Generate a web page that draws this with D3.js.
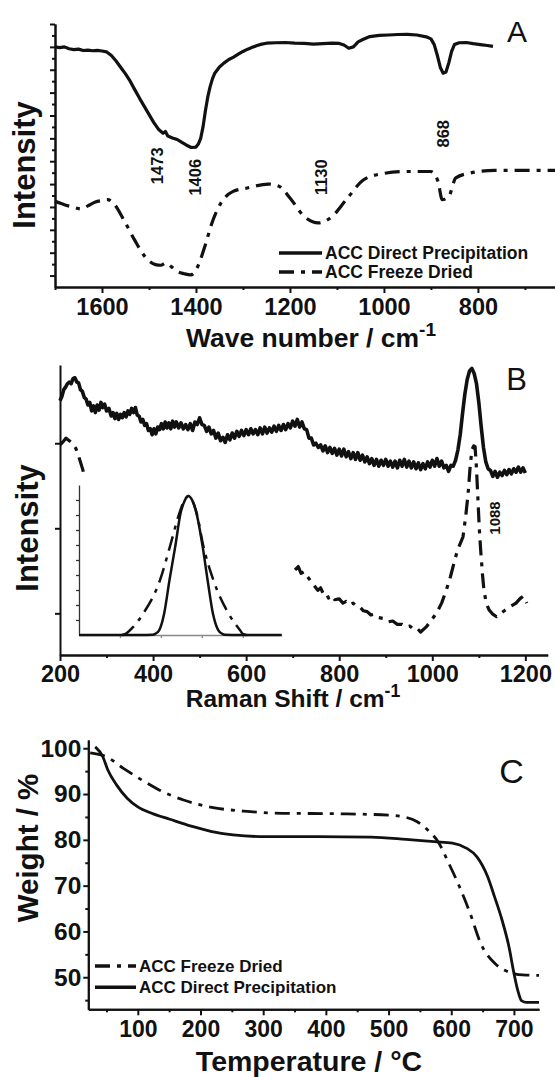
<!DOCTYPE html>
<html>
<head>
<meta charset="utf-8">
<script src="https://cdn.jsdelivr.net/npm/d3@7.9.0/dist/d3.min.js"></script>
<style>
  body { margin: 0; background: #fff; }
  svg { display: block; font-family: "Liberation Sans", Arial, sans-serif; }
</style>
</head>
<body>
<svg id="chart" width="555" height="1077"></svg>
<script>
// ---- panel A : IR spectra (wave number, intensity in arbitrary units) ----
const irDirect = [
  [1700, 10.0], [1690, 9.97], [1680, 10.0], [1670, 9.92], [1660, 9.88], [1650, 9.9],
  [1640, 9.84], [1630, 9.86], [1620, 9.83], [1610, 9.85], [1600, 9.82], [1590, 9.78],
  [1580, 9.62], [1570, 9.38], [1560, 9.1], [1550, 8.82], [1540, 8.5], [1530, 8.12],
  [1520, 7.75], [1510, 7.4], [1500, 7.05], [1490, 6.7], [1480, 6.4], [1470, 6.22],
  [1465, 6.3], [1460, 6.1], [1450, 6.02], [1440, 5.95], [1430, 5.82], [1420, 5.7],
  [1410, 5.6], [1400, 5.62], [1395, 5.75], [1390, 6.0], [1385, 6.5], [1380, 7.2],
  [1375, 7.8], [1370, 8.25], [1365, 8.6], [1360, 8.85], [1350, 9.12], [1340, 9.3],
  [1330, 9.45], [1320, 9.55], [1310, 9.68], [1300, 9.8], [1290, 9.9], [1280, 9.98],
  [1270, 10.06], [1260, 10.12], [1250, 10.16], [1230, 10.18], [1210, 10.19], [1190, 10.16],
  [1170, 10.15], [1150, 10.12], [1130, 10.14], [1110, 10.16], [1095, 10.15], [1085, 10.08],
  [1075, 9.94], [1065, 10.0], [1055, 10.22], [1045, 10.32], [1030, 10.45], [1010, 10.5],
  [990, 10.52], [970, 10.54], [950, 10.55], [930, 10.52], [910, 10.44], [900, 10.35],
  [893, 10.1], [886, 9.6], [880, 9.1], [874, 8.85], [868, 8.9], [862, 9.3], [856, 9.8],
  [850, 10.1], [840, 10.18], [825, 10.19], [810, 10.14], [795, 10.1], [780, 10.06], [768, 10.02]
];
const irFreeze = [
  [1700, 3.25], [1680, 3.1], [1663, 3.0], [1644, 2.91], [1630, 3.05], [1614, 3.22],
  [1600, 3.28], [1588, 3.32], [1573, 3.1], [1554, 2.45], [1531, 1.57], [1509, 0.84],
  [1486, 0.48], [1475, 0.45], [1464, 0.55], [1452, 0.38], [1441, 0.19], [1425, 0.08],
  [1411, 0.03], [1405, 0.1], [1396, 0.41], [1381, 1.28], [1366, 2.3], [1347, 3.17],
  [1321, 3.68], [1291, 3.83], [1246, 4.0], [1223, 3.9], [1200, 3.39], [1170, 2.59],
  [1140, 2.3], [1110, 2.59], [1080, 3.32], [1043, 4.19], [1005, 4.45], [952, 4.55],
  [900, 4.55], [885, 4.12], [876, 3.32], [862, 3.46], [847, 4.27], [817, 4.48],
  [764, 4.6], [636, 4.6]
];
const irPeaks = [
  { label: "1473", x: 1482, y: 4.8 }, { label: "1406", x: 1401, y: 4.3 },
  { label: "1130", x: 1133, y: 4.3 }, { label: "868", x: 873, y: 6.2 }
];
const irTicks = [1600, 1400, 1200, 1000, 800];
const irMinor = [1700, 1500, 1300, 1100, 900, 700];

// ---- panel B : Raman spectra ----
const ramanDirect = [
  [200, 3.5], [204, 3.55], [208, 3.63], [212, 3.66], [216, 3.7], [220, 3.72], [224, 3.7],
  [228, 3.76], [232, 3.77], [236, 3.72], [240, 3.71], [244, 3.63], [248, 3.61], [252, 3.54],
  [256, 3.52], [260, 3.45], [264, 3.48], [268, 3.38], [272, 3.44], [276, 3.36], [280, 3.45],
  [284, 3.39], [288, 3.48], [292, 3.42], [296, 3.46], [300, 3.38], [305, 3.41], [310, 3.32],
  [314, 3.36], [318, 3.29], [322, 3.35], [326, 3.28], [330, 3.34], [334, 3.3], [338, 3.36],
  [342, 3.31], [346, 3.38], [350, 3.34], [354, 3.41], [358, 3.36], [362, 3.42], [366, 3.33],
  [370, 3.32], [374, 3.25], [378, 3.28], [382, 3.21], [386, 3.23], [390, 3.15], [394, 3.17],
  [398, 3.1], [402, 3.17], [406, 3.11], [410, 3.19], [414, 3.16], [418, 3.23], [422, 3.17],
  [426, 3.25], [430, 3.18], [434, 3.24], [438, 3.17], [442, 3.26], [446, 3.19], [450, 3.25],
  [455, 3.18], [460, 3.24], [465, 3.17], [470, 3.22], [475, 3.16], [480, 3.23], [485, 3.15],
  [490, 3.25], [495, 3.22], [500, 3.3], [505, 3.22], [510, 3.21], [515, 3.14], [520, 3.19],
  [525, 3.11], [530, 3.15], [535, 3.06], [540, 3.12], [545, 3.03], [550, 3.07], [555, 3.01],
  [560, 3.1], [565, 3.04], [570, 3.12], [575, 3.06], [580, 3.14], [585, 3.08], [590, 3.15],
  [595, 3.09], [600, 3.16], [605, 3.1], [610, 3.17], [615, 3.11], [620, 3.16], [625, 3.1],
  [630, 3.18], [635, 3.11], [640, 3.19], [645, 3.12], [650, 3.18], [655, 3.13], [660, 3.2],
  [665, 3.14], [670, 3.21], [675, 3.15], [680, 3.22], [685, 3.16], [690, 3.23], [695, 3.18],
  [700, 3.26], [705, 3.2], [710, 3.28], [715, 3.19], [720, 3.25], [725, 3.17], [730, 3.16],
  [735, 3.06], [740, 3.06], [745, 2.98], [750, 3.0], [755, 2.95], [760, 2.98], [765, 2.91],
  [770, 2.97], [775, 2.89], [780, 2.95], [785, 2.88], [790, 2.94], [795, 2.86], [800, 2.93],
  [805, 2.85], [810, 2.93], [815, 2.84], [820, 2.9], [825, 2.82], [830, 2.89], [835, 2.81],
  [840, 2.89], [845, 2.8], [850, 2.86], [855, 2.78], [860, 2.84], [865, 2.76], [870, 2.82],
  [875, 2.74], [880, 2.81], [885, 2.73], [890, 2.8], [895, 2.74], [900, 2.81], [905, 2.73],
  [910, 2.79], [915, 2.72], [920, 2.79], [925, 2.71], [930, 2.8], [935, 2.73], [940, 2.81],
  [945, 2.72], [950, 2.79], [955, 2.71], [960, 2.78], [965, 2.7], [970, 2.77], [975, 2.69],
  [980, 2.76], [985, 2.7], [990, 2.78], [995, 2.72], [1000, 2.8], [1005, 2.73], [1010, 2.82],
  [1015, 2.73], [1020, 2.79], [1025, 2.71], [1030, 2.74], [1035, 2.67], [1040, 2.74],
  [1045, 2.73], [1050, 2.8], [1055, 2.92], [1060, 3.1], [1065, 3.35], [1070, 3.58],
  [1075, 3.75], [1080, 3.85], [1085, 3.88], [1090, 3.82], [1095, 3.7], [1100, 3.48],
  [1105, 3.2], [1110, 2.95], [1115, 2.78], [1120, 2.7], [1125, 2.68], [1130, 2.61],
  [1135, 2.67], [1140, 2.6], [1145, 2.66], [1150, 2.62], [1155, 2.68], [1160, 2.63],
  [1165, 2.69], [1170, 2.64], [1175, 2.7], [1180, 2.66], [1185, 2.72], [1190, 2.66],
  [1195, 2.71], [1200, 2.65]
];
const ramanFreezeLow = [
  [200, 2.98], [207, 3.02], [213, 3.06], [220, 3.03], [227, 3.0], [234, 2.94],
  [240, 2.85], [245, 2.76], [249, 2.69], [253, 2.59]
];
const ramanFreezeHigh = [
  [705, 1.51], [712, 1.55], [718, 1.47], [725, 1.49], [732, 1.43], [743, 1.35], [754, 1.27],
  [760, 1.3], [765, 1.24], [771, 1.25], [777, 1.18], [784, 1.21], [790, 1.16], [800, 1.17],
  [808, 1.12], [815, 1.14], [822, 1.1], [830, 1.12], [838, 1.08], [845, 1.07], [852, 1.03],
  [860, 1.02], [868, 0.98], [876, 0.99], [885, 0.95], [895, 0.94], [906, 0.9], [915, 0.91],
  [925, 0.87], [935, 0.87], [944, 0.84], [952, 0.85], [960, 0.81], [968, 0.82], [975, 0.78],
  [987, 0.84], [998, 0.92], [1010, 1.01], [1020, 1.12], [1030, 1.27], [1039, 1.43],
  [1047, 1.6], [1054, 1.74], [1060, 1.82], [1066, 1.9], [1072, 2.15], [1077, 2.41],
  [1081, 2.7], [1085, 2.92], [1089, 2.97], [1092, 2.96], [1095, 2.7], [1098, 2.35],
  [1101, 2.0], [1104, 1.74], [1108, 1.45], [1111, 1.27], [1116, 1.12], [1122, 1.04],
  [1130, 0.99], [1138, 0.96], [1147, 1.0], [1157, 1.04], [1168, 1.08], [1180, 1.12],
  [1188, 1.17], [1195, 1.2], [1200, 1.16], [1203, 1.12]
];
const ramanTicks = [200, 400, 600, 800, 1000, 1200];
const ramanMinor = [300, 500, 700, 900, 1100];
const ramanYTicks = [1, 2, 3];

// inset of panel B (arbitrary units)
const insetNarrow = [
  [0, 0], [1.5, 0], [1.8, 0.02], [1.86, 0.08], [1.96, 0.33], [2.08, 1.44], [2.21, 3.67],
  [2.35, 5.89], [2.48, 8.11], [2.58, 8.95], [2.67, 9.27], [2.77, 8.95], [2.87, 8.11],
  [3.02, 5.89], [3.14, 3.67], [3.27, 1.44], [3.4, 0.33], [3.5, 0.08], [3.56, 0.02],
  [3.9, 0], [4.95, 0]
];
const insetBroad = [
  [1.05, 0], [1.12, 0.05], [1.33, 0.56], [1.57, 1.44], [1.98, 3.67], [2.22, 5.89],
  [2.45, 8.11], [2.57, 8.95], [2.67, 9.27], [2.77, 8.95], [2.875, 8.11], [3.04, 5.89],
  [3.28, 3.67], [3.65, 1.44], [3.93, 0.33], [4.01, 0.05], [4.1, 0]
];

// ---- panel C : TGA ----
const tgaDirect = [
  [32, 100.3], [44, 98.2], [52, 95.3], [66, 92.0], [83, 89.1], [100, 87.2], [122, 85.8],
  [151, 84.5], [185, 83.0], [218, 81.8], [252, 81.1], [303, 80.7], [387, 80.7], [472, 80.6],
  [528, 80.1], [573, 79.6], [602, 79.3], [624, 78.2], [641, 76.3], [658, 72.0], [669, 67.6],
  [681, 62.5], [692, 56.7], [700, 50.9], [706, 47.2], [712, 44.9], [720, 44.5], [740, 44.5]
];
const tgaFreeze = [
  [24, 99.0], [49, 98.2], [77, 95.6], [106, 93.1], [134, 90.9], [173, 88.7], [218, 87.1],
  [275, 86.2], [331, 85.8], [416, 85.7], [500, 85.4], [528, 84.9], [545, 84.0], [562, 82.2],
  [579, 79.6], [596, 74.9], [613, 69.8], [630, 64.0], [647, 57.4], [669, 53.1], [697, 50.9],
  [714, 50.5], [740, 50.4]
];
const tgaXTicks = [100, 200, 300, 400, 500, 600, 700];
const tgaXMinor = [50, 150, 250, 350, 450, 550, 650];
const tgaYTicks = [50, 60, 70, 80, 90, 100];
const tgaYMinor = [45, 55, 65, 75, 85, 95];

const seriesNames = ["ACC Direct Precipitation", "ACC Freeze Dried"];

const svg = d3.select("#chart");
svg.append("rect").attr("width", 555).attr("height", 1077).attr("fill", "#fff");

const DASHDOT = "15,7,4,7";
const INK = "#111";

function styleAxis(g, fontSize) {
  g.select(".domain").attr("stroke", INK).attr("stroke-width", 2);
  g.selectAll(".tick line").attr("stroke", INK).attr("stroke-width", 2);
  g.selectAll(".tick text")
    .attr("fill", INK)
    .attr("font-size", fontSize)
    .attr("font-weight", "bold")
    .attr("font-family", '"Liberation Sans", Arial, sans-serif');
}

// draw major + minor ticks for one axis
function bottomAxis(x, yPos, major, minor, fontSize, pad) {
  if (minor) {
    svg.append("g").attr("transform", `translate(0,${yPos})`)
      .call(d3.axisBottom(x).tickValues(minor).tickSize(3).tickSizeOuter(0).tickFormat(""))
      .call((g) => styleAxis(g, fontSize));
  }
  svg.append("g").attr("transform", `translate(0,${yPos})`)
    .call(d3.axisBottom(x).tickValues(major).tickSize(6).tickPadding(pad).tickSizeOuter(0)
      .tickFormat(d3.format("d")))
    .call((g) => styleAxis(g, fontSize));
}
function leftAxis(y, xPos, major, minor, labels, fontSize) {
  if (minor) {
    svg.append("g").attr("transform", `translate(${xPos},0)`)
      .call(d3.axisLeft(y).tickValues(minor).tickSize(3).tickSizeOuter(0).tickFormat(""))
      .call((g) => styleAxis(g, fontSize));
  }
  svg.append("g").attr("transform", `translate(${xPos},0)`)
    .call(d3.axisLeft(y).tickValues(major).tickSize(5).tickPadding(2).tickSizeOuter(0)
      .tickFormat(labels ? d3.format("d") : ""))
    .call((g) => styleAxis(g, fontSize));
}

function drawLine(data, x, y, dashed, width, curve) {
  const line = d3.line().x((d) => x(d[0])).y((d) => y(d[1])).curve(curve || d3.curveLinear);
  svg.append("path")
    .datum(data)
    .attr("d", line)
    .attr("fill", "none")
    .attr("stroke", INK)
    .attr("stroke-width", width)
    .attr("stroke-linejoin", "round")
    .attr("stroke-dasharray", dashed ? DASHDOT : null);
}

function vText(txt, cx, cy, size, weight) {
  return svg.append("text")
    .attr("transform", `translate(${cx},${cy}) rotate(-90)`)
    .attr("text-anchor", "middle")
    .attr("dy", "0.35em")
    .attr("font-size", size)
    .attr("font-weight", weight || "normal")
    .attr("fill", INK)
    .text(txt);
}

function axisTitle(main, sup, cx, baseline, size) {
  const t = svg.append("text")
    .attr("x", cx).attr("y", baseline)
    .attr("text-anchor", "middle")
    .attr("font-size", size)
    .attr("font-weight", "bold")
    .attr("fill", INK);
  t.append("tspan").text(main);
  if (sup) t.append("tspan").attr("font-size", size * 0.72).attr("dy", -size * 0.42).text(sup);
}

function panelLetter(txt, cx, baseline, size) {
  svg.append("text")
    .attr("x", cx).attr("y", baseline)
    .attr("text-anchor", "middle")
    .attr("font-size", size)
    .attr("fill", INK)
    .text(txt);
}

function legendRow(x0, x1, y, dashed, label, size) {
  svg.append("line")
    .attr("x1", x0).attr("x2", x1).attr("y1", y).attr("y2", y)
    .attr("stroke", INK).attr("stroke-width", 3.5)
    .attr("stroke-dasharray", dashed ? DASHDOT : null);
  svg.append("text")
    .attr("x", x1 + 3).attr("y", y + size * 0.36)
    .attr("font-size", size)
    .attr("font-weight", "bold")
    .attr("fill", INK)
    .text(label);
}

// ================= Panel A =================
const xA = d3.scaleLinear().domain([1700, 636]).range([55, 555]);
const yA = d3.scaleLinear().domain([-0.5, 11]).range([287, 24]);
leftAxis(yA, 55, d3.range(0, 12), d3.range(0.5, 11, 1), false, 23);
bottomAxis(xA, 287, irTicks, irMinor, 23.5, 5);
drawLine(irDirect, xA, yA, false, 3.2);
drawLine(irFreeze, xA, yA, true, 3.2, d3.curveMonotoneX);
irPeaks.forEach((p) => vText(p.label, xA(p.x), yA(p.y), 16.5, "bold"));
vText("Intensity", 24, 165, 31, "bold");
axisTitle("Wave number / cm", "-1", 311, 347, 26.5);
panelLetter("A", 517, 42, 30);
legendRow(279, 322, 253, false, seriesNames[0], 17.5);
legendRow(279, 322, 272, true, seriesNames[1], 17.5);

// ================= Panel B =================
const xB = d3.scaleLinear().domain([200, 1248]).range([60, 547.7]);
const yB = d3.scaleLinear().domain([0.51, 3.92]).range([655, 365]);
leftAxis(yB, 60, ramanYTicks, null, false, 23);
bottomAxis(xB, 655, ramanTicks, ramanMinor, 23.5, 4);
drawLine(ramanDirect, xB, yB, false, 3.6);
drawLine(ramanFreezeLow, xB, yB, true, 3.2);
drawLine(ramanFreezeHigh, xB, yB, true, 3.2);
vText("1088", 495, 518, 15, "bold");
vText("Intensity", 27, 528, 31, "bold");
axisTitle("Raman Shift / cm", "-1", 293, 707, 24.5);
panelLetter("B", 516.5, 390, 31);

// inset
const xI = d3.scaleLinear().domain([0, 4.95]).range([79, 281.7]);
const yI = d3.scaleLinear().domain([0, 10]).range([635, 485]);
const insetLeft = svg.append("g").attr("transform", "translate(79,0)")
  .call(d3.axisLeft(yI).tickValues(d3.range(1, 10)).tickSize(3).tickSizeOuter(0).tickFormat(""));
insetLeft.selectAll("path,line").attr("stroke", "#333").attr("stroke-width", 1.3);
const insetBottom = svg.append("g").attr("transform", "translate(0,635)")
  .call(d3.axisBottom(xI).tickValues([1, 2, 3, 4]).tickSize(3).tickSizeOuter(0).tickFormat(""));
insetBottom.selectAll("path,line").attr("stroke", "#888").attr("stroke-width", 1.3);
drawLine(insetNarrow, xI, yI, false, 2.5, d3.curveMonotoneX);
drawLine(insetBroad, xI, yI, true, 2.5, d3.curveMonotoneX);

// ================= Panel C =================
const xC = d3.scaleLinear().domain([21, 740]).range([88.3, 539]);
const yC = d3.scaleLinear().domain([43, 101.8]).range([1009.3, 740]);
leftAxis(yC, 88.3, tgaYTicks, tgaYMinor, true, 24.5);
bottomAxis(xC, 1009.3, tgaXTicks, tgaXMinor, 23, 5);
drawLine(tgaDirect, xC, yC, false, 2.8, d3.curveMonotoneX);
drawLine(tgaFreeze, xC, yC, true, 2.8, d3.curveMonotoneX);
vText("Weight / %", 28, 848, 29.5, "bold");
axisTitle("Temperature / \u00B0C", null, 309, 1071, 28.5);
panelLetter("C", 511.5, 783, 34);
legendRow(95, 136, 966, true, seriesNames[1], 17);
legendRow(95, 136, 987.3, false, seriesNames[0], 17);
</script>
</body>
</html>
